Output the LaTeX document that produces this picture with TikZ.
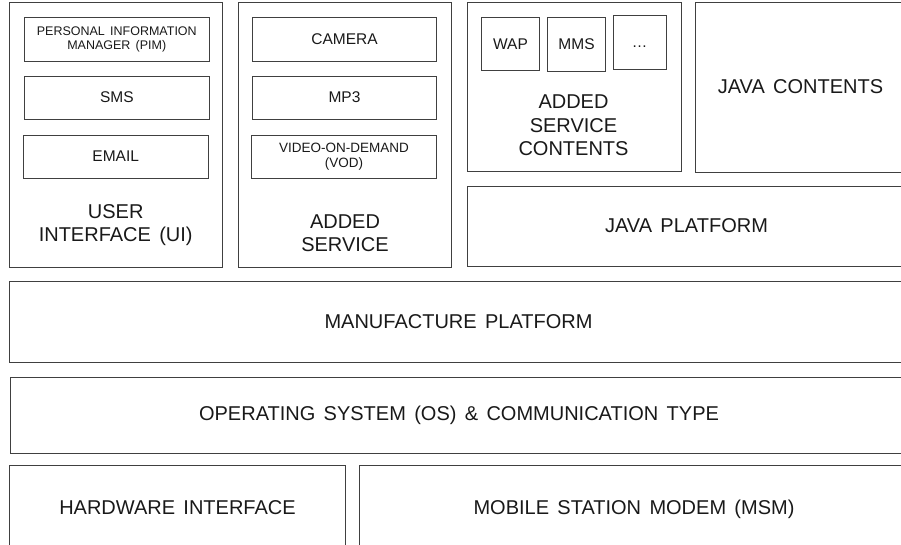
\documentclass[tikz,border=0pt]{standalone}
\usepackage{fontspec}
\setmainfont[WordSpace=1.5]{Liberation Sans}
\begin{document}
\begin{tikzpicture}[x=1pt,y=-1pt,
  box/.style={draw=black!75, line width=0.9pt, inner sep=0pt, text=black!90},
  big/.style={font=\fontsize{20}{23.5}\selectfont, align=center, text=black!90, inner sep=0pt},
  mid/.style={font=\fontsize{15.5}{18}\selectfont, align=center},
  small/.style={font=\fontsize{12.5}{14}\selectfont, align=center}]
\useasboundingbox (0,0) rectangle (901,544);
\clip (0,0) rectangle (901,544);
% user interface
\node[box, minimum width=212.7pt, minimum height=265pt] (ui) at (115.7,134.5) {};
\node[box, small, minimum width=185pt, minimum height=44pt] (pim) at (116.8,39) {PERSONAL INFORMATION\\MANAGER (PIM)};
\node[box, mid, minimum width=185pt, minimum height=43pt] (sms) at (116.8,97.5) {SMS};
\node[box, mid, minimum width=184.7pt, minimum height=43pt] (email) at (115.7,156.5) {EMAIL};
\node[big] (uilabel) at (115.7,225) {USER\\INTERFACE (UI)};
% added service
\node[box, minimum width=213.4pt, minimum height=265pt] (as) at (345,134.5) {};
\node[box, mid, minimum width=184.4pt, minimum height=44pt] (cam) at (344.5,39) {CAMERA};
\node[box, mid, minimum width=184.4pt, minimum height=43pt] (mp3) at (344.5,97.5) {MP3};
\node[box, font=\fontsize{13.5}{15}\selectfont, align=center, minimum width=184.3pt, minimum height=43pt] (vod) at (343.9,156.5) {VIDEO-ON-DEMAND\\(VOD)};
\node[big] (aslabel) at (345,233) {ADDED\\SERVICE};
% added service contents
\node[box, minimum width=214.4pt, minimum height=169.7pt] (asc) at (574.5,86.85) {};
\node[box, mid, minimum width=57.6pt, minimum height=53.7pt] (wap) at (510.5,43.85) {WAP};
\node[box, mid, minimum width=58.4pt, minimum height=54pt] (mms) at (576.5,44) {MMS};
\node[box, mid, minimum width=52.7pt, minimum height=54.3pt] (dots) at (639.65,42.15) {\vphantom{WAP}\dots};
\node[big] (asclabel) at (573.5,125.5) {ADDED\\SERVICE\\CONTENTS};
% java
\node[box, big, minimum width=211pt, minimum height=170pt] (jc) at (800.5,87) {JAVA CONTENTS};
\node[box, big, minimum width=439pt, minimum height=80pt] (jp) at (686.5,226) {JAVA PLATFORM};
% platform layers
\node[box, big, minimum width=899pt, minimum height=80.6pt] (mp) at (458.5,322) {MANUFACTURE PLATFORM};
\node[box, big, minimum width=898pt, minimum height=76.4pt] (os) at (459,415.5) {OPERATING SYSTEM (OS) \& COMMUNICATION TYPE};
\node[box, minimum width=336.4pt, minimum height=82.3pt] (hw) at (177.5,506.85) {};
\node[big, anchor=base] (hwlabel) at (177.5,514) {HARDWARE INTERFACE};
\node[box, minimum width=550pt, minimum height=82.3pt] (msm) at (634,506.85) {};
\node[big, anchor=base] (msmlabel) at (634,514) {MOBILE STATION MODEM (MSM)};
\end{tikzpicture}
\end{document}
